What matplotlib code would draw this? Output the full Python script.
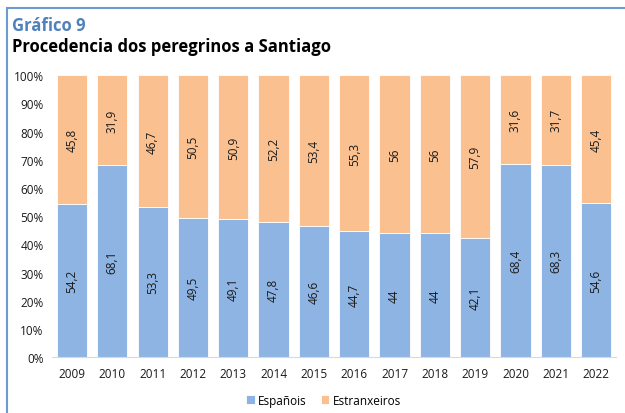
import matplotlib.pyplot as plt
from matplotlib.patches import Rectangle

anos = ['2009', '2010', '2011', '2012', '2013', '2014', '2015',
        '2016', '2017', '2018', '2019', '2020', '2021', '2022']
espanois = [54.2, 68.1, 53.3, 49.5, 49.1, 47.8, 46.6, 44.7, 44, 44, 42.1, 68.4, 68.3, 54.6]
estranxeiros = [45.8, 31.9, 46.7, 50.5, 50.9, 52.2, 53.4, 55.3, 56, 56, 57.9, 31.6, 31.7, 45.4]
etiquetas_y = ['0%', '10%', '20%', '30%', '40%', '50%', '60%', '70%', '80%', '90%', '100%']

azul = '#8EB4E3'
laranxa = '#FAC090'

plt.rcParams['font.family'] = ['Open Sans', 'DejaVu Sans']

fig = plt.figure(figsize=(6.25, 4.14), dpi=100)
ax = fig.add_axes([0.083, 0.135, 0.903, 0.681])

x = range(len(anos))
b1 = ax.bar(x, espanois, width=0.75, color=azul, edgecolor='white', linewidth=0.6, label='Españois')
b2 = ax.bar(x, estranxeiros, width=0.75, bottom=espanois, color=laranxa,
            edgecolor='white', linewidth=0.6, label='Estranxeiros')

for i in x:
    ax.text(i, espanois[i] / 2, f'{espanois[i]:g}'.replace('.', ','), rotation=90,
            ha='center', va='center', fontsize=8.5, color='#1a1a1a')
    ax.text(i, espanois[i] + estranxeiros[i] / 2, f'{estranxeiros[i]:g}'.replace('.', ','),
            rotation=90, ha='center', va='center', fontsize=8.5, color='#1a1a1a')

ax.set_xlim(-0.5, len(anos) - 0.5)
ax.set_ylim(0, 100)
ax.set_yticks(range(0, 101, 10))
ax.set_yticklabels(etiquetas_y)
ax.set_xticks(list(x))
ax.set_xticklabels(anos)
ax.tick_params(axis='both', length=0, labelsize=8.5, colors='#1a1a1a')
ax.tick_params(axis='x', pad=7)
ax.tick_params(axis='y', pad=6)
for s in ['top', 'right', 'left']:
    ax.spines[s].set_visible(False)
ax.spines['bottom'].set_color('#d9d9d9')

fig.legend(handles=[b1, b2], loc='center', bbox_to_anchor=(0.518, 0.031), ncol=2,
           frameon=False, fontsize=8.5, handlelength=0.7, handleheight=0.7,
           handletextpad=0.3, columnspacing=1.2)

fig.text(12 / 625, 1 - 26 / 414, 'Gráfico 9', color='#4F81BD', fontsize=12,
         fontweight='bold', ha='left', va='center')
fig.text(12 / 625, 1 - 47 / 414, 'Procedencia dos peregrinos a Santiago', color='black',
         fontsize=12, fontweight='bold', ha='left', va='center')

fig.add_artist(Rectangle((7 / 625, -0.1), 1.2, 1 - 9 / 414 + 0.1, transform=fig.transFigure,
                         fill=False, edgecolor='#6A9BD1', linewidth=1.5))

fig.savefig('out.png', dpi=100)
